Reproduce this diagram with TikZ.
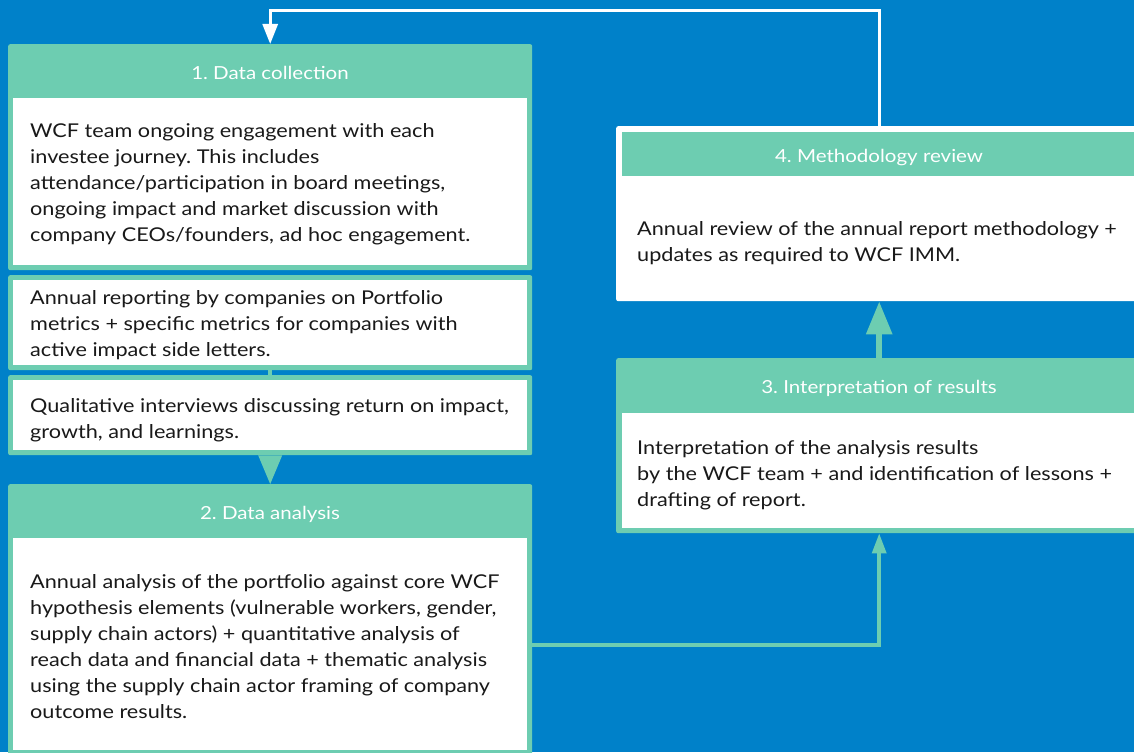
\documentclass[tikz,border=0pt]{standalone}
\usepackage{fontspec}
\setmainfont[FakeStretch=1.14]{Lato}
\usetikzlibrary{arrows.meta}
\definecolor{bgblue}{RGB}{0,129,201}
\definecolor{mint}{RGB}{109,205,177}
\tikzset{
  greenbox/.style={fill=mint, rounded corners=2pt, inner sep=0pt, anchor=north west},
  whitebox/.style={fill=white, inner sep=0pt, anchor=north west},
  headtxt/.style={text=white, font=\fontsize{18}{22}\selectfont, inner sep=0pt, anchor=base},
  bodytxt/.style={text=black!90, font=\fontsize{19}{26}\selectfont, align=left, inner sep=0pt, anchor=north west},
}
\frenchspacing
\begin{document}
\begin{tikzpicture}[x=1pt,y=-1pt]
\useasboundingbox (0,0) rectangle (1134,752);
\fill[bgblue] (0,0) rectangle (1134,752);

% Box 1
\node[greenbox, minimum width=524pt, minimum height=226pt] (b1) at (8,44) {};
\node[whitebox, minimum width=514pt, minimum height=167pt] (w1) at (13,98) {};
\node[headtxt] (h1) at (270,79.5) {1. Data collection};
\node[bodytxt] (t1) at (30,123) {WCF team ongoing engagement with each\\investee journey. This includes\\attendance/participation in board meetings,\\ongoing impact and market discussion with\\company CEOs/founders, ad hoc engagement.};

% Box 1b
\node[greenbox, minimum width=524pt, minimum height=95pt] (b1b) at (8,275) {};
\node[whitebox, minimum width=514pt, minimum height=85pt] (w1b) at (13,280) {};
\node[bodytxt] (t1b) at (30,290) {Annual reporting by companies on Portfolio\\metrics + specific metrics for companies with\\active impact side letters.};

% Box 1c
\node[greenbox, minimum width=524pt, minimum height=80pt] (b1c) at (8,375) {};
\node[whitebox, minimum width=514pt, minimum height=70pt] (w1c) at (13,380) {};
\node[bodytxt] (t1c) at (30,398) {Qualitative interviews discussing return on impact,\\growth, and learnings.};

% Box 2
\node[greenbox, minimum width=524pt, minimum height=280pt] (b2) at (8,484) {};
\node[whitebox, minimum width=514pt, minimum height=212pt] (w2) at (13,538) {};
\node[headtxt] (h2) at (270,519.5) {2. Data analysis};
\node[bodytxt] (t2) at (30,574) {Annual analysis of the portfolio against core WCF\\hypothesis elements (vulnerable workers, gender,\\supply chain actors) + quantitative analysis of\\reach data and financial data + thematic analysis\\using the supply chain actor framing of company\\outcome results.};

% Box 3
\node[greenbox, minimum width=526pt, minimum height=175pt] (b3) at (616,358) {};
\node[whitebox, minimum width=520pt, minimum height=115pt] (w3) at (622,413) {};
\node[headtxt] (h3) at (879,393.5) {3. Interpretation of results};
\node[bodytxt] (t3) at (637,440) {Interpretation of the analysis results\\by the WCF team + and identification of lessons +\\drafting of report.};

% Box 4
\node[whitebox, rounded corners=2pt, minimum width=526pt, minimum height=175pt] (b4) at (616,126) {};
\node[fill=mint, inner sep=0pt, anchor=north west, minimum width=520pt, minimum height=44pt] (g4) at (622,132) {};
\node[headtxt] (h4) at (879,162.5) {4. Methodology review};
\node[bodytxt] (t4) at (637,221) {Annual review of the annual report methodology +\\updates as required to WCF IMM.};

% Connectors
\draw[mint, line width=4pt] (b1b.south) -- (b1c.north);
\fill[mint] ([xshift=-12pt]b1c.south) -- ([xshift=12pt]b1c.south) -- (b2.north) -- cycle;
\draw[mint, line width=6pt, -{Triangle[length=33pt,width=25pt]}] (b3.north) -- (b4.south);
\draw[mint, line width=3.5pt, -{Triangle[length=20pt,width=14pt]}] (b2.north east) ++(0,161) -| (b3.south);
\draw[white, line width=3pt, -{Triangle[length=20pt,width=15pt]}] (b4.north) -- ++(0,-115) -| (b1.north);
\end{tikzpicture}
\end{document}
